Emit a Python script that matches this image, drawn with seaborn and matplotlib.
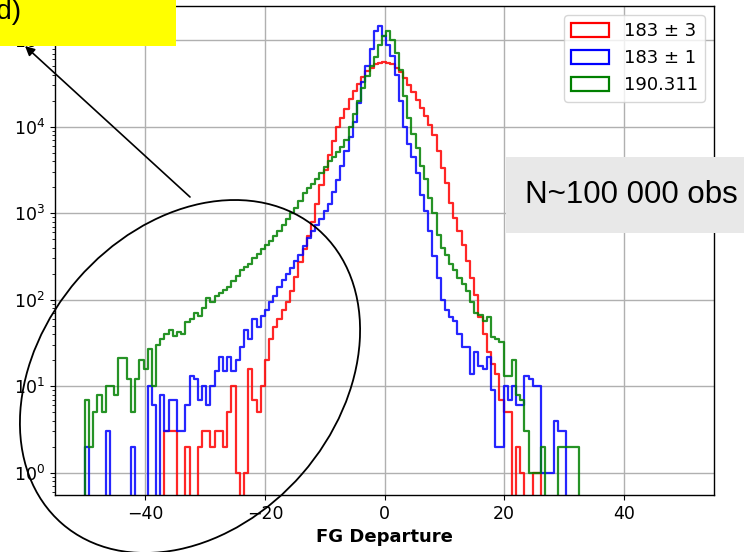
import numpy as np
import pandas as pd
import matplotlib
matplotlib.use("Agg")
import matplotlib.pyplot as plt
import seaborn as sns
from matplotlib.patches import Patch, Ellipse, Rectangle

# ---------------- data (histogram counts) ----------------
bin_start = -50.8
bin_width = 0.7

red_counts = [0,
    0, 0, 0, 0, 0, 0, 0, 0, 0, 0,
    0, 0, 0, 0, 0, 0, 0, 0, 0, 3,
    3, 3, 0, 0, 2, 0, 0, 2, 3, 3,
    2, 3, 3, 2, 5, 10, 1, 0, 1, 16,
    7, 5, 10, 20, 35, 48, 60, 76, 95, 126,
    182, 270, 380, 540, 800, 1260, 2140, 3160, 4700, 6900,
    9800, 12600, 15800, 21000, 25700, 31000, 37000, 43600, 47900, 52500,
    55000, 55600, 55000, 52500, 47900, 42700, 36300, 30200, 25100, 20400,
    16600, 13200, 10500, 7900, 5250, 3300, 2240, 1320, 890, 630,
    430, 280, 178, 112, 63, 40, 25, 18, 14, 7,
    5, 5, 0, 2, 1, 0, 0, 1, 1, 0,
    0, 0, 0, 0, 0, 0, 0, 0, 0,
    0]

blue_counts = [0,
    2, 0, 0, 0, 0, 3, 0, 0, 0, 0,
    0, 2, 0, 0, 0, 10, 6, 0, 8, 3,
    7, 7, 3, 3, 6, 13, 12, 7, 10, 6,
    10, 15, 22, 15, 22, 15, 20, 28, 45, 35,
    60, 48, 65, 75, 95, 110, 140, 170, 200, 230,
    280, 330, 420, 520, 620, 720, 850, 1050, 1260, 1740,
    2400, 3470, 5250, 7600, 11200, 19000, 33000, 50000, 79000, 126000,
    145000, 112000, 89000, 66000, 40000, 20000, 10000, 6300, 4500, 2900,
    1600, 1070, 630, 316, 178, 100, 76, 63, 56, 40,
    28, 28, 14, 25, 17, 16, 22, 9, 2, 2,
    10, 7, 10, 6, 6, 13, 12, 10, 10, 1,
    1, 1, 4, 3, 3, 0, 0, 0, 0,
    0]

green_counts = [0,
    7, 2, 5, 8, 5, 10, 10, 8, 21, 21,
    12, 5, 12, 20, 16, 27, 10, 30, 35, 40,
    45, 38, 42, 40, 55, 60, 70, 65, 80, 105,
    95, 110, 120, 130, 140, 165, 190, 220, 240, 260,
    300, 340, 390, 430, 480, 550, 620, 720, 850, 1000,
    1150, 1400, 1700, 1950, 2150, 2500, 2900, 3400, 4000, 4500,
    5100, 5800, 7100, 10000, 14000, 20000, 28000, 38000, 50000, 63000,
    89000, 112000, 126000, 100000, 71000, 45000, 22400, 12600, 8300, 5600,
    3550, 2500, 1500, 1000, 560, 400, 330, 260, 220, 180,
    150, 126, 95, 70, 66, 56, 63, 37, 35, 32,
    13, 13, 20, 8, 7, 3, 1, 1, 1, 2,
    0, 0, 0, 2, 2, 2, 2, 2, 0,
    0]

series_labels = ["183 ± 3", "183 ± 1", "190.311"]
series_colors = ["red", "blue", "green"]
x_label = "FG Departure"
panel_text = "(d)"
note_text = "N~100 000 obs"

# ---------------- figure ----------------
W, H = 744, 552
fig = plt.figure(figsize=(W / 100, H / 100), dpi=100)
ax = fig.add_axes([55 / W, 1 - 495 / H, 659 / W, 489 / H])
ax.set_yscale("log")

n_bins = len(red_counts)
edges = bin_start + bin_width * np.arange(n_bins + 1)
centers = edges[:-1] + bin_width / 2

for counts, lab, col in zip([red_counts, blue_counts, green_counts],
                            series_labels, series_colors):
    df = pd.DataFrame({"value": centers, "count": np.asarray(counts, dtype=float)})
    sns.histplot(data=df, x="value", weights="count", bins=list(edges),
                 element="step", fill=False, color=col, alpha=0.85,
                 linewidth=1.6, ax=ax)

ax.set_xlim(-55.1, 55.1)
ax.set_ylim(0.552, 2.48e5)
ax.set_ylabel("")
ax.set_xlabel(x_label, fontsize=13, fontweight="bold")
ax.set_xticks([-40, -20, 0, 20, 40])
ax.grid(True, which="major", color="#b0b0b0", linewidth=1.0)
ax.set_axisbelow(True)
ax.tick_params(labelsize=12.5)
for s in ax.spines.values():
    s.set_linewidth(1.0)

handles = [Patch(facecolor="none", edgecolor=c, linewidth=1.6) for c in series_colors]
ax.legend(handles, series_labels, loc="upper right", fontsize=13,
          handlelength=2.1, handleheight=0.8)

# ---------------- slide overlays ----------------
ov = fig.add_axes([0, 0, 1, 1], zorder=10)
ov.set_xlim(0, W)
ov.set_ylim(H, 0)
ov.axis("off")
ov.patch.set_alpha(0)

ov.add_patch(Rectangle((0, 0), 176, 45.5, facecolor="#ffff00", edgecolor="none"))
ov.text(21, 19, panel_text, ha="right", va="baseline", fontsize=20,
        family="Liberation Sans", color="black")

ov.add_patch(Rectangle((506, 157), 240, 76, facecolor="#e8e8e8", edgecolor="none"))
ov.text(525, 195, note_text, ha="left", va="center", fontsize=22.5,
        family="Liberation Sans", color="black")

ov.add_patch(Ellipse((190, 376.5), 390, 297, angle=-49, fill=False,
                     edgecolor="black", linewidth=1.3))
ov.annotate("", xy=(25, 46), xytext=(190, 197),
            arrowprops=dict(arrowstyle="-|>", color="black", lw=1.2,
                            mutation_scale=14, shrinkA=0, shrinkB=0))

fig.savefig("out.png", dpi=100)
